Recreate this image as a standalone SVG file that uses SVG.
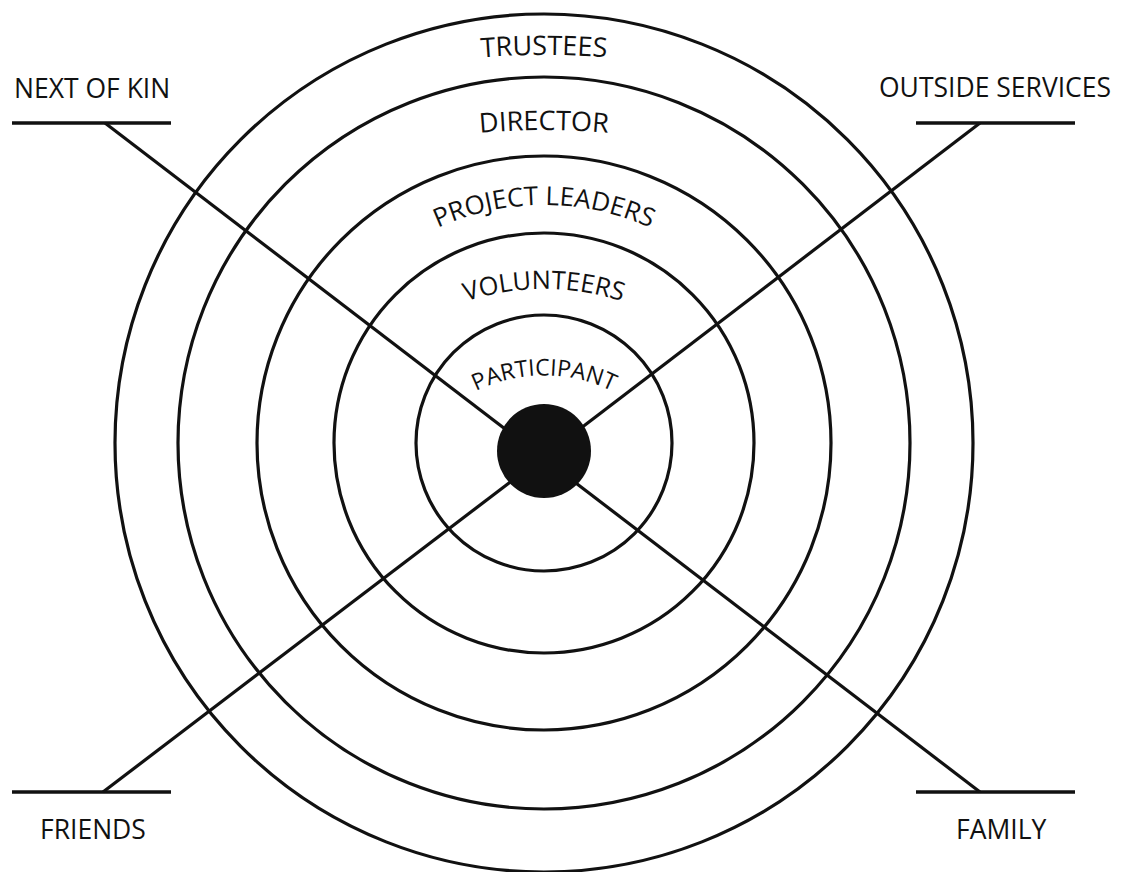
<svg xmlns="http://www.w3.org/2000/svg" width="1121" height="872" viewBox="0 0 1121 872">
  <defs>
    <style>
      .ring { fill: none; stroke: #111111; stroke-width: 3.2; }
      .conn { stroke: #111111; stroke-width: 3.2; fill: none; stroke-linecap: butt; }
      .bar { stroke: #111111; stroke-width: 3.6; }
      .lbl { font-family: "Open Sans", "Noto Sans", "Liberation Sans", sans-serif; font-size: 26.5px; font-weight: 500; fill: #111111; }
      .arc { font-family: "Open Sans", "Noto Sans", "Liberation Sans", sans-serif; font-size: 26px; font-weight: 500; fill: #111111; }
    </style>
    <path id="p-trustees" d="M 270.4 103.2 A 800 800 0 0 1 817.6 103.2"/>
    <path id="p-director" d="M 304.6 172.2 A 700 700 0 0 1 783.4 172.2"/>
    <path id="p-leaders" d="M 378.8 265.1 A 257 257 0 0 1 709.2 265.1"/>
    <path id="p-volunteers" d="M 400.6 334.2 A 250 250 0 0 1 687.4 334.2"/>
    <path id="p-participant" d="M 443.1 412.7 A 155 155 0 0 1 644.9 412.7"/>
  </defs>
  <rect width="1121" height="872" fill="#ffffff"/>

  <g id="connectors">
    <line class="conn" x1="105" y1="123" x2="542.5" y2="457.5"/>
    <line class="conn" x1="980" y1="123" x2="542.5" y2="457.5"/>
    <line class="conn" x1="103" y1="792" x2="542.5" y2="457.5"/>
    <line class="conn" x1="980" y1="792" x2="542.5" y2="457.5"/>
  </g>

  <g id="trustees">
    <circle class="ring" cx="544" cy="443" r="429"/>
    <text class="arc" style="font-size:27px"><textPath href="#p-trustees" startOffset="50%" text-anchor="middle">TRUSTEES</textPath></text>
  </g>
  <g id="director">
    <circle class="ring" cx="544" cy="443" r="366"/>
    <text class="arc" style="font-size:27px"><textPath href="#p-director" startOffset="50%" text-anchor="middle">DIRECTOR</textPath></text>
  </g>
  <g id="project-leaders">
    <circle class="ring" cx="544" cy="443" r="287"/>
    <text class="arc"><textPath href="#p-leaders" startOffset="50%" text-anchor="middle">PROJECT LEADERS</textPath></text>
  </g>
  <g id="volunteers">
    <circle class="ring" cx="544" cy="443" r="210"/>
    <text class="arc" style="font-size:25.5px"><textPath href="#p-volunteers" startOffset="50%" text-anchor="middle">VOLUNTEERS</textPath></text>
  </g>
  <g id="participant">
    <circle class="ring" cx="544" cy="443" r="128"/>
    <text class="arc" style="font-size:23px"><textPath href="#p-participant" startOffset="50%" text-anchor="middle">PARTICIPANT</textPath></text>
    <circle cx="544" cy="451" r="47" fill="#111111"/>
  </g>

  <g id="next-of-kin">
    <line class="bar" x1="12" y1="123" x2="171" y2="123"/>
    <text class="lbl" x="14" y="98">NEXT OF KIN</text>
  </g>
  <g id="outside-services">
    <line class="bar" x1="916" y1="123" x2="1075" y2="123"/>
    <text class="lbl" x="879" y="97">OUTSIDE SERVICES</text>
  </g>
  <g id="friends">
    <line class="bar" x1="12" y1="792" x2="171" y2="792"/>
    <text class="lbl" x="40" y="839">FRIENDS</text>
  </g>
  <g id="family">
    <line class="bar" x1="916" y1="792" x2="1075" y2="792"/>
    <text class="lbl" x="956" y="839">FAMILY</text>
  </g>
</svg>
